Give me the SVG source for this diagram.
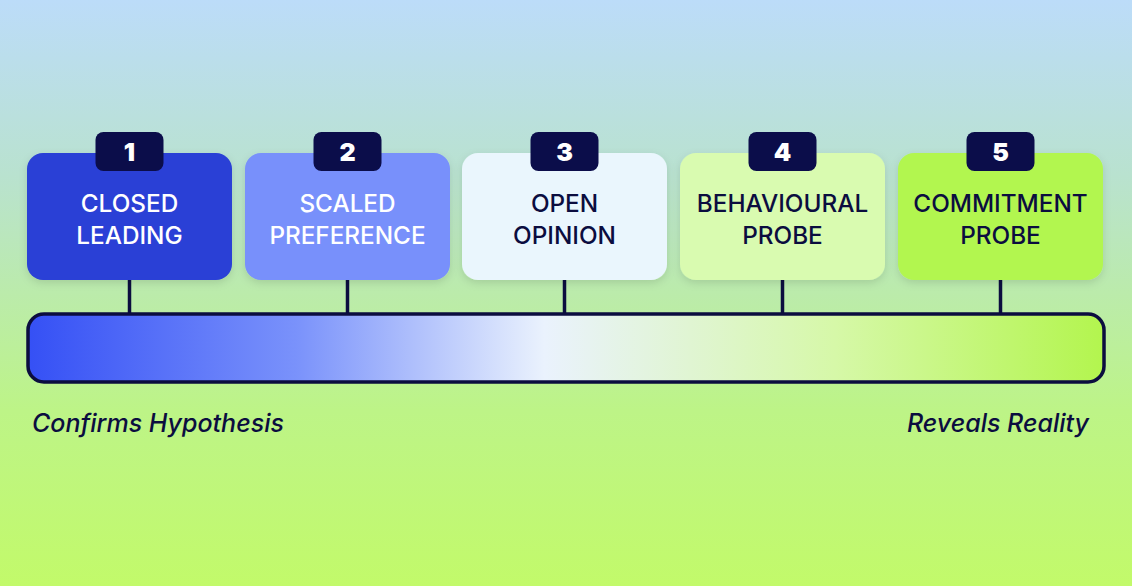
<svg xmlns="http://www.w3.org/2000/svg" width="1132" height="586" viewBox="0 0 1132 586">
<defs>
<linearGradient id="bg" x1="0" y1="0" x2="0" y2="1">
<stop offset="0" stop-color="#bcdcf9"/>
<stop offset="0.3" stop-color="#b9e2cf"/>
<stop offset="0.7" stop-color="#bdf487"/>
<stop offset="1" stop-color="#c2fa6a"/>
</linearGradient>
<linearGradient id="bar" x1="0" y1="0" x2="1" y2="0">
<stop offset="0" stop-color="#3550f5"/>
<stop offset="0.25" stop-color="#7a92fb"/>
<stop offset="0.48" stop-color="#eaf2fd"/>
<stop offset="0.75" stop-color="#d6f8a8"/>
<stop offset="1" stop-color="#b3f54e"/>
</linearGradient>
<filter id="sh" x="-10%" y="-10%" width="120%" height="130%"><feDropShadow dx="0" dy="3" stdDeviation="4" flood-color="#000" flood-opacity="0.12"/></filter>
<style>
.box{filter:url(#sh)}
.badge{fill:#0b0d4a}
.num{font-family:Inter,"Liberation Sans",sans-serif;font-weight:900;font-size:25px;fill:#fff;text-anchor:middle}
.lbl{font-family:Inter,"Liberation Sans",sans-serif;font-weight:500;font-size:24.3px;text-anchor:middle}
.conn{stroke:#0b0d3f;stroke-width:3.5}
.cap{font-family:Inter,"Liberation Sans",sans-serif;font-style:italic;font-weight:500;font-size:25px;fill:#0b0d3f}
</style>
</defs>
<rect width="1132" height="586" fill="url(#bg)"/>
<g id="connectors">
<line class="conn" x1="129.5" y1="280" x2="129.5" y2="314"/>
<line class="conn" x1="347.5" y1="280" x2="347.5" y2="314"/>
<line class="conn" x1="564.5" y1="280" x2="564.5" y2="314"/>
<line class="conn" x1="782.5" y1="280" x2="782.5" y2="314"/>
<line class="conn" x1="1000.5" y1="280" x2="1000.5" y2="314"/>
</g>
<g id="bar-scale"><rect x="28" y="314" width="1076" height="68" rx="16" fill="url(#bar)" stroke="#0b0d3f" stroke-width="3.5"/></g>
<g id="n1"><rect class="box" x="27" y="153" width="205" height="127" rx="16" fill="#2a40d6"/><rect class="badge" x="95.5" y="132" width="68" height="39" rx="8"/><text class="num" x="129.5" y="161">1</text><text class="lbl" x="129.5" y="212" fill="#fff">CLOSED</text><text class="lbl" x="129.5" y="244" fill="#fff">LEADING</text></g>
<g id="n2"><rect class="box" x="245" y="153" width="205" height="127" rx="16" fill="#7890fb"/><rect class="badge" x="313.5" y="132" width="68" height="39" rx="8"/><text class="num" x="347.5" y="161">2</text><text class="lbl" x="347.5" y="212" fill="#fff">SCALED</text><text class="lbl" x="347.5" y="244" fill="#fff">PREFERENCE</text></g>
<g id="n3"><rect class="box" x="462" y="153" width="205" height="127" rx="16" fill="#eaf6fd"/><rect class="badge" x="530.5" y="132" width="68" height="39" rx="8"/><text class="num" x="564.5" y="161">3</text><text class="lbl" x="564.5" y="212" fill="#0b0d3f">OPEN</text><text class="lbl" x="564.5" y="244" fill="#0b0d3f">OPINION</text></g>
<g id="n4"><rect class="box" x="680" y="153" width="205" height="127" rx="16" fill="#d9fbb0"/><rect class="badge" x="748.5" y="132" width="68" height="39" rx="8"/><text class="num" x="782.5" y="161">4</text><text class="lbl" x="782.5" y="212" fill="#0b0d3f">BEHAVIOURAL</text><text class="lbl" x="782.5" y="244" fill="#0b0d3f">PROBE</text></g>
<g id="n5"><rect class="box" x="898" y="153" width="205" height="127" rx="16" fill="#b2f650"/><rect class="badge" x="966.5" y="132" width="68" height="39" rx="8"/><text class="num" x="1000.5" y="161">5</text><text class="lbl" x="1000.5" y="212" fill="#0b0d3f">COMMITMENT</text><text class="lbl" x="1000.5" y="244" fill="#0b0d3f">PROBE</text></g>
<text class="cap" x="32" y="432">Confirms Hypothesis</text>
<text class="cap" x="1089" y="432" text-anchor="end">Reveals Reality</text>
</svg>
